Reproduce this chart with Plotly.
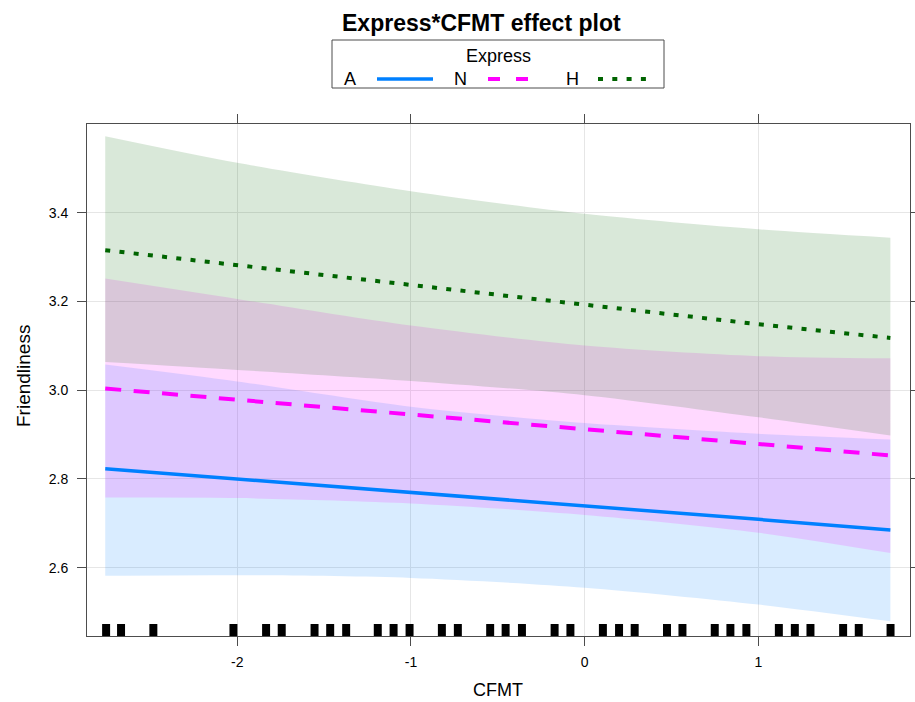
import plotly.graph_objects as go

# CFMT grid at which the fitted effects are evaluated
cfmt_grid = [-2.76, -2.0, -1.0, 0.0, 1.0, 1.76]

# Fitted Friendliness and 95% confidence limits for each Express level
fit_A = [2.823, 2.800, 2.770, 2.741, 2.709, 2.685]
lower_A = [2.582, 2.583, 2.577, 2.555, 2.517, 2.479]
upper_A = [3.058, 3.020, 2.963, 2.926, 2.902, 2.889]

fit_N = [3.004, 2.979, 2.945, 2.911, 2.879, 2.853]
lower_N = [2.758, 2.757, 2.745, 2.719, 2.679, 2.633]
upper_N = [3.252, 3.206, 3.146, 3.101, 3.077, 3.072]

fit_H = [3.316, 3.282, 3.236, 3.193, 3.149, 3.118]
lower_H = [3.064, 3.046, 3.021, 2.989, 2.939, 2.898]
upper_H = [3.573, 3.513, 3.449, 3.398, 3.363, 3.344]

# Observed CFMT values (rug)
cfmt_obs = [-2.755, -2.669, -2.483, -2.022, -1.834, -1.744, -1.555, -1.465,
            -1.373, -1.191, -1.100, -1.008, -0.822, -0.730, -0.544, -0.455,
            -0.361, -0.173, -0.082, 0.105, 0.198, 0.288, 0.474, 0.563,
            0.749, 0.839, 0.931, 1.118, 1.210, 1.300, 1.488, 1.578, 1.761]

x_ticks = [-2, -1, 0, 1]
y_ticks = [2.6, 2.8, 3.0, 3.2, 3.4]

levels = ["A", "N", "H"]
line_colors = {"A": "#0080ff", "N": "#ff00ff", "H": "#006400"}
band_colors = {"A": "rgba(0,128,255,0.15)", "N": "rgba(255,0,255,0.15)",
               "H": "rgba(0,100,0,0.15)"}
dashes = {"A": "solid", "N": "16px,12.5px", "H": "5px,9.3px"}
widths = {"A": 3.5, "N": 4, "H": 4}
series = {"A": (fit_A, lower_A, upper_A),
          "N": (fit_N, lower_N, upper_N),
          "H": (fit_H, lower_H, upper_H)}

X_RANGE = [-2.865, 1.873]
Y_RANGE = [2.446, 3.6004]

W, H = 915, 702
ML, MR, MT, MB = 87, 5, 124, 66
PW, PH = W - ML - MR, H - MT - MB


def px_x(px):
    return (px - ML) / PW


def px_y(py):
    return (H - MB - py) / PH


FONT = "Liberation Sans, Arial, Helvetica, sans-serif"

fig = go.Figure()

# confidence bands: lower limit, then upper limit filled down to it
for lev in levels:
    fit, lo, up = series[lev]
    fig.add_trace(go.Scatter(
        x=cfmt_grid, y=lo, mode="lines",
        line=dict(width=0, shape="spline", smoothing=0.8),
        hoverinfo="skip", showlegend=False))
    fig.add_trace(go.Scatter(
        x=cfmt_grid, y=up, mode="lines", fill="tonexty",
        fillcolor=band_colors[lev],
        line=dict(width=0, shape="spline", smoothing=0.8),
        hoverinfo="skip", showlegend=False))

# fitted lines
for lev in levels:
    fit, lo, up = series[lev]
    fig.add_trace(go.Scatter(
        x=cfmt_grid, y=fit, mode="lines", name=lev,
        line=dict(color=line_colors[lev], width=widths[lev], dash=dashes[lev]),
        showlegend=False))

# rug of observed CFMT values
rug_h = 0.027
fig.add_trace(go.Bar(
    x=cfmt_obs, y=[rug_h] * len(cfmt_obs), base=Y_RANGE[0],
    width=0.046, marker=dict(color="black", line=dict(width=0)),
    hoverinfo="skip", showlegend=False))

axis_common = dict(
    showline=True, linecolor="#4d4d4d", linewidth=1, mirror="ticks",
    ticks="outside", ticklen=9, tickcolor="#4d4d4d", tickwidth=1,
    showgrid=True, gridcolor="#e6e6e6", gridwidth=1, zeroline=False,
    automargin=False,
    tickfont=dict(family=FONT, size=14, color="black"),
)

fig.update_xaxes(range=X_RANGE, tickvals=x_ticks, ticktext=[str(v) for v in x_ticks],
                 ticklabelstandoff=4, **axis_common)
fig.update_yaxes(range=Y_RANGE, tickvals=y_ticks, ticktext=[f"{v:.1f}" for v in y_ticks],
                 ticklabelstandoff=6, **axis_common)

shapes = []
annotations = []

# axis titles
annotations.append(dict(text="CFMT", x=px_x(498), y=px_y(690), xref="paper", yref="paper",
                        showarrow=False, xanchor="center", yanchor="middle",
                        font=dict(family=FONT, size=18, color="black")))
annotations.append(dict(text="Friendliness", x=px_x(23), y=px_y(376), xref="paper",
                        yref="paper", showarrow=False, textangle=-90,
                        xanchor="center", yanchor="middle",
                        font=dict(family=FONT, size=19, color="black")))

# main title
annotations.append(dict(text="<b>Express*CFMT effect plot</b>", x=px_x(481.5), y=px_y(23),
                        xref="paper", yref="paper", showarrow=False,
                        xanchor="center", yanchor="middle",
                        font=dict(family=FONT, size=23, color="black")))

# key: box, title, labels and line samples
shapes.append(dict(type="rect", xref="paper", yref="paper",
                   x0=px_x(332), x1=px_x(664), y0=px_y(88), y1=px_y(40),
                   line=dict(color="#4d4d4d", width=1), fillcolor="rgba(0,0,0,0)"))
annotations.append(dict(text="Express", x=px_x(498), y=px_y(56), xref="paper",
                        yref="paper", showarrow=False, xanchor="center",
                        yanchor="middle", font=dict(family=FONT, size=18, color="black")))
key_pos = {"A": (350, 377, 433), "N": (460, 488, 532), "H": (572, 598, 647)}
for lev in levels:
    lx, s0, s1 = key_pos[lev]
    annotations.append(dict(text=lev, x=px_x(lx), y=px_y(79), xref="paper", yref="paper",
                            showarrow=False, xanchor="center", yanchor="middle",
                            font=dict(family=FONT, size=18, color="black")))
    shapes.append(dict(type="line", xref="paper", yref="paper",
                       x0=px_x(s0), x1=px_x(s1), y0=px_y(79), y1=px_y(79),
                       line=dict(color=line_colors[lev], width=widths[lev],
                                 dash=dashes[lev] if lev != "N" else "12px,16px")))

fig.update_layout(
    width=W, height=H,
    margin=dict(l=ML, r=MR, t=MT, b=MB, pad=0),
    paper_bgcolor="white", plot_bgcolor="white",
    showlegend=False, shapes=shapes, annotations=annotations,
    font=dict(family=FONT, color="black"),
)

fig.write_html("out.html")
